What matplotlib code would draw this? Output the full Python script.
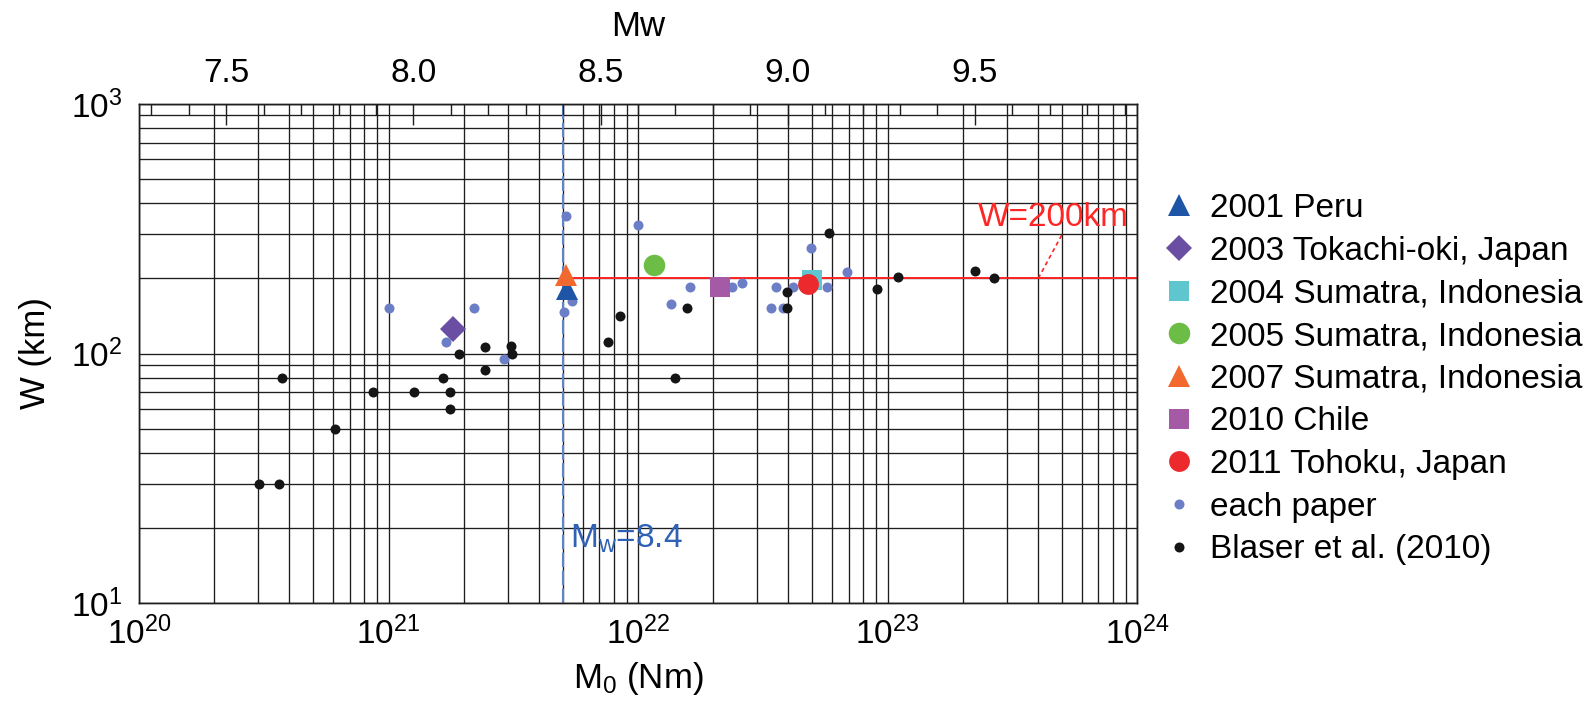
import matplotlib
matplotlib.use('Agg')
import matplotlib.pyplot as plt
import numpy as np
from matplotlib.ticker import FixedLocator, NullFormatter, FixedFormatter, LogLocator

plt.rcParams['font.family'] = ['Liberation Sans', 'DejaVu Sans']
plt.rcParams['mathtext.fontset'] = 'custom'
plt.rcParams['mathtext.rm'] = 'Liberation Sans'
plt.rcParams['mathtext.it'] = 'Liberation Sans:italic'
plt.rcParams['mathtext.default'] = 'regular'

# ---------------- data ----------------
blaser_m0 = [3.03e20, 3.64e20, 3.75e20, 6.12e20, 8.64e20, 1.26e21, 1.66e21, 1.77e21,
             1.77e21, 1.91e21, 2.44e21, 2.44e21, 3.09e21, 3.12e21, 7.6e21, 8.45e21,
             1.41e22, 1.57e22, 3.96e22, 3.96e22, 5.85e22, 9.1e22, 1.10e23, 2.25e23, 2.67e23]
blaser_w = [30, 30, 80, 50, 70, 70, 80, 70,
            60, 100, 106, 86, 107, 100, 111, 142,
            80, 152, 177, 152, 305, 182, 202, 214, 200]

paper_m0 = [1.0e21, 2.21e21, 1.70e21, 2.91e21, 5.05e21, 5.45e21, 5.14e21, 9.98e21,
            1.61e22, 1.35e22, 2.39e22, 2.61e22, 3.57e22, 3.40e22, 3.80e22, 4.19e22,
            4.92e22, 5.70e22, 6.86e22]
paper_w = [152, 152, 111, 95, 147, 163, 357, 327,
           184, 158, 184, 191, 184, 152, 152, 184,
           264, 184, 213]

event_labels = ['2001 Peru', '2003 Tokachi-oki, Japan', '2004 Sumatra, Indonesia',
                '2005 Sumatra, Indonesia', '2007 Sumatra, Indonesia', '2010 Chile',
                '2011 Tohoku, Japan']
event_m0 = [5.2e21, 1.82e21, 4.97e22, 1.16e22, 5.15e21, 2.14e22, 4.82e22]
event_w = [182, 125, 197, 226, 207, 184, 190]

mw_major = [7.5, 8.0, 8.5, 9.0, 9.5]
mw_minor = [7.3, 7.4, 7.6, 7.7, 7.8, 7.9, 8.1, 8.2, 8.3, 8.4, 8.6, 8.7, 8.8, 8.9,
            9.1, 9.2, 9.3, 9.4, 9.6, 9.7, 9.8, 9.9]
mw_line = 8.4
w_line = 200

# ---------------- styles ----------------
event_markers = ['^', 'D', 's', 'o', '^', 's', 'o']
event_colors = ['#1f55a6', '#6a4ea3', '#5fc5cf', '#6cbd45', '#f2692f', '#a45aa4', '#ec2a2e']
event_ms = [16.5, 13.5, 14.5, 15.5, 16.5, 14.0, 15.0]


def mw_to_m0(mw):
    return 10 ** (1.5 * np.asarray(mw, dtype=float) + 9.1)


fig = plt.figure(figsize=(15.92, 7.02), dpi=100)
ax = fig.add_axes([139 / 1592, 1 - 603 / 702, 998 / 1592, 499 / 702])
ax.set_xscale('log')
ax.set_yscale('log')
ax.set_xlim(1e20, 1e24)
ax.set_ylim(10, 1000)

ax.xaxis.set_minor_locator(LogLocator(base=10, subs=np.arange(2, 10)))
ax.yaxis.set_minor_locator(LogLocator(base=10, subs=np.arange(2, 10)))
ax.xaxis.set_minor_formatter(NullFormatter())
ax.yaxis.set_minor_formatter(NullFormatter())
ax.grid(True, which='both', color='#1e1e1e', linewidth=0.95, zorder=0)
ax.set_axisbelow(True)
for sp in ax.spines.values():
    sp.set_linewidth(1.0)
    sp.set_color('#1e1e1e')

ax.tick_params(axis='x', which='both', length=0, pad=10, labelsize=24)
ax.tick_params(axis='y', which='both', length=0, pad=12, labelsize=24)

# reference lines
ax.axvline(mw_to_m0(mw_line), color='#5b86cc', lw=1.5, dashes=(7, 1.6), zorder=2)
ax.plot([mw_to_m0(mw_line), 1e24], [w_line, w_line], color='#ff2424', lw=1.4, zorder=2)
ax.plot([4.02e23, 4.99e23], [w_line, 298], color='#ff2424', lw=1.2,
        ls=(0, (2.5, 2)), zorder=2)
ax.text(10 ** 23.363, 352, 'W=200km', color='#ff2626', fontsize=24, ha='left', va='center')
ax.text(10 ** 21.727, 18.1, r'M$_w$=8.4', color='#2f62b5', fontsize=24,
        ha='left', va='center')

h_paper, = ax.plot(paper_m0, paper_w, ls='none', marker='o', ms=7.2, mew=0,
                   color='#6c7fc6', zorder=3)
h_blaser, = ax.plot(blaser_m0, blaser_w, ls='none', marker='o', ms=7.2, mew=0,
                    color='#151515', zorder=3)
order = [0, 4, 1, 3, 2, 5, 6]
ev_handles = [None] * len(event_labels)
for i in order:
    h, = ax.plot([event_m0[i]], [event_w[i]], ls='none', marker=event_markers[i],
                 ms=event_ms[i], mew=0, color=event_colors[i], zorder=4 + i * 0.01)
    ev_handles[i] = h

handles = ev_handles + [h_paper, h_blaser]
labels = event_labels + ['each paper', 'Blaser et al. (2010)']
ax.legend(handles, labels, loc='upper left',
          bbox_to_anchor=(1162 / 1592, 1 - 193 / 702), bbox_transform=fig.transFigure,
          frameon=False, fontsize=24, handlelength=1.0, handletextpad=0.43,
          labelspacing=0.35, borderpad=0, borderaxespad=0, numpoints=1)

ax.set_xlabel(r'M$_0$ (Nm)', fontsize=25, labelpad=6)
ax.set_ylabel('W (km)', fontsize=25, labelpad=14)

# top Mw axis
ax2 = ax.twiny()
ax2.set_xscale('log')
ax2.set_xlim(ax.get_xlim())
ax2.xaxis.set_major_locator(FixedLocator(mw_to_m0(mw_major)))
ax2.xaxis.set_major_formatter(FixedFormatter(['%.1f' % v for v in mw_major]))
ax2.xaxis.set_minor_locator(FixedLocator(mw_to_m0(mw_minor)))
ax2.xaxis.set_minor_formatter(NullFormatter())
ax2.tick_params(axis='x', which='major', direction='in', length=15, width=1.0,
                pad=11, labelsize=24, color='#1e1e1e')
ax2.tick_params(axis='x', which='minor', direction='in', length=8, width=1.0,
                color='#1e1e1e')
ax2.set_xlabel('Mw', fontsize=25, labelpad=16)
for sp in ax2.spines.values():
    sp.set_linewidth(1.0)
    sp.set_color('#1e1e1e')

fig.savefig('out.png', dpi=100)
